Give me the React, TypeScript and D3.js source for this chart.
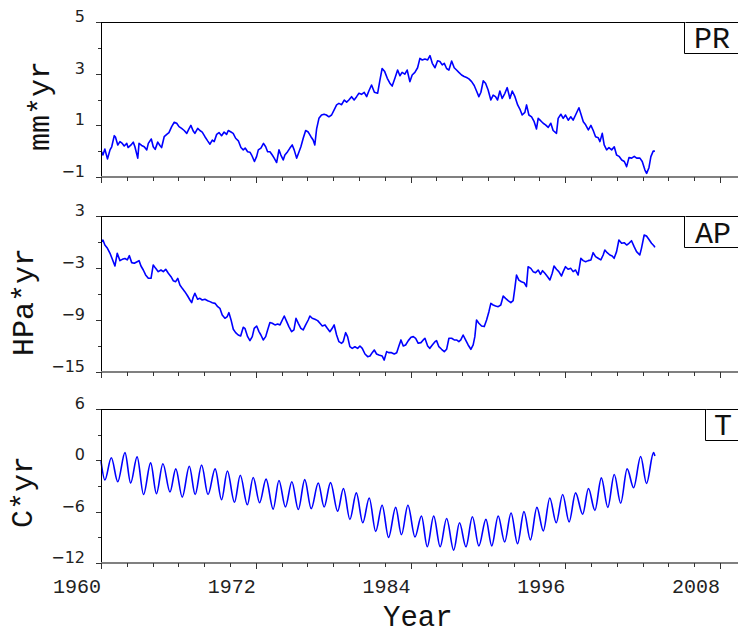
import React from "react";
import * as d3 from "d3";

// Tick labels
const YEAR_TICKS = [1960, 1972, 1984, 1996, 2008];
const PR_TICKS = [-1, 1, 3, 5];
const AP_TICKS = [-15, -9, -3, 3];
const T_TICKS = [-12, -6, 0, 6];

// Precipitation, cumulative anomaly (year, mm*yr)
const PR: [number, number][] = [
  [1960.05, -0.02], [1960.15, -0.15], [1960.3, 0.08], [1960.5, -0.3], [1960.7, 0.05], [1960.83, 0.17],
  [1961.03, 0.6], [1961.12, 0.55], [1961.3, 0.24], [1961.47, 0.37], [1961.65, 0.3], [1961.8, 0.2],
  [1962.0, 0.3], [1962.1, 0.14], [1962.33, 0.24], [1962.5, 0.35], [1962.63, 0.17], [1962.85, -0.27],
  [1962.95, 0.3], [1963.15, 0.22], [1963.35, 0.17], [1963.55, 0.05], [1963.67, 0.3], [1963.9, 0.47],
  [1964.05, 0.17], [1964.2, 0.07], [1964.4, 0.35], [1964.57, 0.22], [1964.7, 0.14], [1964.9, 0.56],
  [1965.1, 0.65], [1965.27, 0.72], [1965.48, 0.95], [1965.68, 1.12], [1965.87, 1.08], [1966.05, 0.95],
  [1966.25, 0.88], [1966.45, 0.8], [1966.65, 0.69], [1966.82, 0.86], [1966.97, 1.0], [1967.15, 0.78],
  [1967.28, 0.69], [1967.5, 0.88], [1967.67, 0.8], [1967.85, 0.74], [1968.06, 0.56], [1968.27, 0.4],
  [1968.45, 0.27], [1968.63, 0.43], [1968.78, 0.37], [1968.97, 0.65], [1969.15, 0.72], [1969.35, 0.6],
  [1969.55, 0.74], [1969.74, 0.65], [1969.87, 0.8], [1970.08, 0.74], [1970.25, 0.69], [1970.44, 0.5],
  [1970.65, 0.4], [1970.85, 0.14], [1971.03, 0.05], [1971.18, 0.12], [1971.37, -0.02], [1971.55, -0.04],
  [1971.68, -0.15], [1971.9, -0.4], [1972.07, -0.2], [1972.2, 0.05], [1972.4, 0.12], [1972.6, 0.3],
  [1972.77, 0.17], [1972.92, -0.02], [1973.1, -0.02], [1973.28, -0.15], [1973.43, -0.27], [1973.62, -0.44],
  [1973.8, 0.05], [1973.95, -0.15], [1974.13, -0.34], [1974.26, -0.15], [1974.47, -0.02], [1974.65, 0.12],
  [1974.83, 0.24], [1974.98, 0.05], [1975.17, -0.27], [1975.3, -0.1], [1975.5, 0.17], [1975.68, 0.5],
  [1975.87, 0.8], [1976.07, 0.74], [1976.28, 0.56], [1976.45, 0.43], [1976.58, 0.24], [1976.72, 0.86],
  [1976.9, 1.27], [1977.1, 1.4], [1977.3, 1.43], [1977.48, 1.4], [1977.67, 1.33], [1977.88, 1.4],
  [1978.08, 1.6], [1978.27, 1.79], [1978.45, 1.85], [1978.66, 1.8], [1978.86, 1.98], [1979.05, 1.9],
  [1979.22, 1.98], [1979.43, 2.11], [1979.63, 1.98], [1979.82, 2.11], [1980.0, 2.24], [1980.2, 2.2],
  [1980.41, 2.28], [1980.6, 2.11], [1980.77, 2.33], [1980.98, 2.56], [1981.2, 2.28], [1981.45, 2.24],
  [1981.63, 2.75], [1981.8, 3.2], [1982.0, 3.08], [1982.2, 2.82], [1982.4, 2.63], [1982.58, 2.52],
  [1982.79, 2.82], [1983.0, 3.14], [1983.18, 2.92], [1983.35, 3.05], [1983.56, 2.98], [1983.74, 3.14],
  [1983.95, 2.69], [1984.13, 2.95], [1984.34, 3.05], [1984.55, 3.23], [1984.73, 3.59], [1984.91, 3.53],
  [1985.12, 3.57], [1985.33, 3.53], [1985.51, 3.7], [1985.69, 3.4], [1985.9, 3.23], [1986.1, 3.5],
  [1986.28, 3.47], [1986.46, 3.34], [1986.62, 3.4], [1986.8, 3.2], [1986.98, 3.14], [1987.19, 3.49],
  [1987.39, 3.23], [1987.57, 3.14], [1987.75, 3.05], [1987.96, 2.95], [1988.16, 2.89], [1988.35, 2.85],
  [1988.53, 2.8], [1988.74, 2.69], [1988.94, 2.54], [1989.12, 2.33], [1989.3, 2.11], [1989.46, 2.28],
  [1989.64, 2.72], [1989.82, 2.63], [1990.02, 2.37], [1990.23, 1.98], [1990.41, 2.17], [1990.59, 2.11],
  [1990.75, 1.98], [1990.93, 2.33], [1991.11, 2.04], [1991.32, 2.24], [1991.5, 2.46], [1991.71, 2.04],
  [1991.89, 2.33], [1992.1, 2.11], [1992.31, 1.79], [1992.48, 1.63], [1992.66, 1.4], [1992.87, 1.5],
  [1993.0, 1.79], [1993.18, 1.4], [1993.39, 1.33], [1993.59, 1.14], [1993.77, 0.86], [1993.9, 1.27],
  [1994.11, 1.17], [1994.29, 1.08], [1994.47, 1.02], [1994.68, 0.92], [1994.88, 1.08], [1995.06, 0.8],
  [1995.32, 0.69], [1995.45, 1.27], [1995.66, 1.43], [1995.84, 1.27], [1996.02, 1.4], [1996.23, 1.2],
  [1996.43, 1.33], [1996.61, 1.2], [1996.8, 1.4], [1997.06, 1.68], [1997.22, 1.43], [1997.4, 1.14],
  [1997.58, 1.02], [1997.79, 0.82], [1997.99, 1.0], [1998.17, 0.8], [1998.35, 0.56], [1998.56, 0.52],
  [1998.69, 0.37], [1998.87, 0.69], [1999.02, 0.24], [1999.21, 0.05], [1999.39, 0.14], [1999.6, 0.05],
  [1999.8, 0.17], [1999.98, -0.15], [2000.17, -0.2], [2000.38, -0.34], [2000.58, -0.4], [2000.76, -0.6],
  [2000.94, -0.25], [2001.15, -0.27], [2001.35, -0.2], [2001.54, -0.27], [2001.79, -0.27], [2001.97, -0.4],
  [2002.18, -0.73], [2002.31, -0.86], [2002.49, -0.64], [2002.64, -0.21], [2002.82, 0.0], [2002.95, 0.0],
];

// Air pressure, cumulative anomaly (year, HPa*yr)
const AP: [number, number][] = [
  [1960.05, 0.04], [1960.15, 0.23], [1960.3, -0.35], [1960.5, -0.73], [1960.7, -1.3], [1960.88, -2.0],
  [1961.08, -2.77], [1961.26, -1.3], [1961.47, -2.15], [1961.65, -2.0], [1961.86, -1.9], [1962.04, -2.07],
  [1962.2, -1.58], [1962.38, -2.38], [1962.58, -2.46], [1962.77, -2.3], [1962.95, -2.15], [1963.1, -2.77],
  [1963.28, -3.23], [1963.46, -3.8], [1963.67, -4.19], [1963.88, -4.19], [1964.05, -2.65], [1964.24, -3.04],
  [1964.44, -3.42], [1964.65, -3.23], [1964.83, -3.42], [1965.02, -3.15], [1965.22, -3.61], [1965.43, -4.0],
  [1965.6, -4.46], [1965.79, -4.58], [1965.95, -4.19], [1966.12, -4.96], [1966.3, -5.35], [1966.5, -5.73],
  [1966.72, -6.23], [1966.9, -6.69], [1967.03, -7.0], [1967.15, -6.38], [1967.28, -5.92], [1967.49, -6.61],
  [1967.67, -6.5], [1967.85, -6.69], [1968.06, -6.61], [1968.27, -6.77], [1968.45, -6.88], [1968.63, -7.0],
  [1968.84, -7.08], [1969.05, -7.46], [1969.22, -7.65], [1969.4, -8.42], [1969.61, -8.8], [1969.79, -8.6],
  [1969.92, -8.15], [1970.08, -8.96], [1970.26, -10.07], [1970.44, -10.46], [1970.64, -10.73], [1970.83, -10.85],
  [1971.03, -9.84], [1971.16, -9.96], [1971.37, -10.92], [1971.55, -11.38], [1971.73, -10.92], [1971.88, -9.96],
  [1972.07, -9.69], [1972.25, -10.34], [1972.4, -10.73], [1972.58, -11.3], [1972.77, -10.92], [1972.92, -10.15],
  [1973.1, -9.3], [1973.28, -9.38], [1973.49, -9.57], [1973.7, -9.46], [1973.88, -9.57], [1974.06, -9.0],
  [1974.21, -8.54], [1974.4, -9.19], [1974.57, -9.76], [1974.78, -10.35], [1974.96, -10.15], [1975.12, -8.8],
  [1975.3, -9.38], [1975.5, -9.96], [1975.68, -10.15], [1975.87, -9.57], [1976.07, -9.0], [1976.2, -8.54],
  [1976.38, -8.8], [1976.59, -8.92], [1976.8, -9.07], [1976.98, -9.38], [1977.16, -9.69], [1977.37, -9.57],
  [1977.55, -9.96], [1977.75, -10.35], [1977.93, -9.96], [1978.08, -9.57], [1978.27, -10.73], [1978.45, -11.5],
  [1978.66, -11.69], [1978.78, -11.5], [1978.97, -10.46], [1979.12, -10.92], [1979.3, -12.08], [1979.48, -12.27],
  [1979.69, -12.08], [1979.9, -12.27], [1980.08, -12.0], [1980.26, -12.27], [1980.47, -12.92], [1980.68, -13.23],
  [1980.86, -13.15], [1981.03, -12.77], [1981.19, -12.46], [1981.37, -12.92], [1981.55, -13.04], [1981.8, -13.15],
  [1981.96, -13.62], [1982.15, -12.65], [1982.33, -12.77], [1982.53, -12.77], [1982.74, -12.92], [1982.93, -12.77],
  [1983.1, -12.0], [1983.26, -11.3], [1983.44, -12.0], [1983.62, -11.88], [1983.83, -11.38], [1984.04, -11.0],
  [1984.22, -10.92], [1984.4, -11.11], [1984.6, -11.69], [1984.81, -11.61], [1984.99, -11.3], [1985.12, -11.11],
  [1985.33, -12.0], [1985.5, -12.27], [1985.69, -11.88], [1985.9, -11.5], [1986.02, -11.38], [1986.2, -12.08],
  [1986.41, -12.38], [1986.62, -12.65], [1986.8, -12.38], [1986.98, -11.11], [1987.19, -11.11], [1987.39, -11.3],
  [1987.57, -11.3], [1987.75, -11.5], [1987.9, -11.3], [1988.08, -10.73], [1988.27, -11.3], [1988.47, -11.88],
  [1988.68, -12.38], [1988.86, -11.88], [1988.99, -10.92], [1989.12, -9.0], [1989.3, -9.38], [1989.51, -9.69],
  [1989.72, -9.76], [1989.9, -9.0], [1990.08, -8.04], [1990.23, -7.08], [1990.41, -7.27], [1990.6, -7.38],
  [1990.8, -7.46], [1991.0, -7.27], [1991.19, -6.23], [1991.37, -6.5], [1991.57, -6.77], [1991.78, -7.0],
  [1991.96, -6.77], [1992.09, -5.35], [1992.22, -3.81], [1992.4, -4.4], [1992.6, -4.58], [1992.81, -4.69],
  [1992.99, -5.15], [1993.12, -2.85], [1993.33, -3.04], [1993.51, -3.42], [1993.7, -3.54], [1993.9, -3.23],
  [1994.08, -3.73], [1994.24, -3.31], [1994.42, -3.61], [1994.63, -4.0], [1994.81, -4.38], [1994.99, -3.61],
  [1995.13, -2.77], [1995.32, -3.15], [1995.5, -3.42], [1995.71, -3.92], [1995.84, -3.42], [1996.02, -2.85],
  [1996.22, -3.15], [1996.43, -3.04], [1996.61, -3.42], [1996.8, -3.23], [1997.0, -3.81], [1997.21, -1.88],
  [1997.39, -2.15], [1997.58, -2.27], [1997.78, -2.15], [1997.99, -2.07], [1998.16, -1.23], [1998.35, -1.69],
  [1998.55, -1.88], [1998.76, -2.07], [1998.94, -1.5], [1999.07, -0.92], [1999.25, -1.23], [1999.46, -1.5],
  [1999.64, -1.61], [1999.79, -1.88], [1999.98, -1.11], [2000.16, 0.23], [2000.37, -0.15], [2000.57, -0.08],
  [2000.76, -0.35], [2000.94, -0.15], [2001.14, 0.15], [2001.34, -0.54], [2001.53, -1.11], [2001.78, -1.5],
  [2001.91, -0.73], [2002.12, 0.81], [2002.3, 0.69], [2002.48, 0.31], [2002.69, -0.15], [2002.89, -0.46],
  [2002.95, -0.62],
];

// Temperature, cumulative anomaly: seasonal peaks and troughs (year, C*yr)
const T: [number, number][] = [
  [1960.0, -0.1], [1960.3, -2.3], [1960.8, 0.3], [1961.3, -2.5], [1961.86, 0.9], [1962.3, -2.65],
  [1962.8, 0.4], [1963.3, -4.0], [1963.85, -0.3], [1964.3, -3.9], [1964.8, -0.4], [1965.35, -3.7],
  [1965.8, -1.0], [1966.3, -4.3], [1966.85, -0.7], [1967.3, -4.0], [1967.8, -0.55], [1968.3, -4.0],
  [1968.85, -1.0], [1969.35, -4.6], [1969.8, -1.25], [1970.35, -4.9], [1970.8, -1.75], [1971.35, -5.2],
  [1971.8, -2.0], [1972.3, -4.95], [1972.8, -2.2], [1973.35, -5.7], [1973.8, -2.35], [1974.3, -5.45],
  [1974.8, -2.5], [1975.3, -5.75], [1975.8, -2.25], [1976.3, -5.65], [1976.85, -2.65], [1977.3, -5.45],
  [1977.8, -2.6], [1978.35, -5.95], [1978.8, -3.3], [1979.3, -6.9], [1979.8, -3.8], [1980.3, -7.3],
  [1980.8, -4.4], [1981.3, -8.3], [1981.8, -5.25], [1982.3, -9.0], [1982.85, -5.5], [1983.3, -8.7],
  [1983.8, -5.25], [1984.35, -8.95], [1984.85, -6.5], [1985.3, -10.1], [1985.8, -6.5], [1986.3, -10.1],
  [1986.8, -6.8], [1987.35, -10.5], [1987.8, -7.3], [1988.3, -10.1], [1988.8, -6.6], [1989.3, -10.0],
  [1989.85, -6.9], [1990.3, -10.0], [1990.8, -6.5], [1991.3, -9.55], [1991.8, -6.15], [1992.3, -9.75],
  [1992.8, -6.0], [1993.3, -9.3], [1993.8, -5.5], [1994.3, -8.25], [1994.8, -4.4], [1995.3, -7.3],
  [1995.8, -4.0], [1996.3, -7.2], [1996.8, -3.8], [1997.35, -6.3], [1997.8, -3.3], [1998.3, -5.85],
  [1998.8, -2.05], [1999.3, -5.5], [1999.8, -1.65], [2000.3, -5.0], [2000.8, -1.0], [2001.3, -3.2],
  [2001.85, 0.45], [2002.3, -2.7], [2002.85, 0.9], [2002.95, 0.5],
];

const WIDTH = 738;
const HEIGHT = 635;
const PLOT_LEFT = 101;
const PLOT_RIGHT = 738;
const MONO = "'Courier New', Courier, 'Nimbus Mono PS', FreeMono, 'Liberation Mono', monospace";
const SANS = "'DejaVu Sans', sans-serif";
const LINE_BLUE = "#0000ff";

const xScale = d3.scaleLinear().domain([1960, 2008]).range([PLOT_LEFT, 720]);
const yearMinor = d3.range(1960, 2009, 2);

type Panel = {
  name: string;
  unit: string;
  data: [number, number][];
  domain: [number, number];
  top: number;
  bottom: number;
  labels: number[];
  step: number;
  curve: d3.CurveFactory;
  boxX: number;
  boxBottom: number;
  nameX: number;
  nameY: number;
  unitX: number;
  unitY: number;
};

const PANELS: Panel[] = [
  { name: "PR", unit: "mm*yr", data: PR, domain: [-1, 5], top: 22, bottom: 177, labels: PR_TICKS, step: 1,
    curve: d3.curveLinear, boxX: 684, boxBottom: 53, nameX: 694, nameY: 48, unitX: 49, unitY: 106 },
  { name: "AP", unit: "HPa*yr", data: AP, domain: [-15, 3], top: 216, bottom: 372, labels: AP_TICKS, step: 3,
    curve: d3.curveLinear, boxX: 684, boxBottom: 247, nameX: 695, nameY: 243, unitX: 33, unitY: 302 },
  { name: "T", unit: "C*yr", data: T, domain: [-12, 6], top: 409, bottom: 563, labels: T_TICKS, step: 3,
    curve: d3.curveMonotoneX, boxX: 705, boxBottom: 440, nameX: 714, nameY: 435, unitX: 32, unitY: 492 },
];

function PanelView({ p, showYears }: { p: Panel; showYears: boolean }) {
  const y = d3.scaleLinear().domain(p.domain).range([p.bottom, p.top]);
  const line = d3
    .line<[number, number]>()
    .x((d) => xScale(d[0]))
    .y((d) => y(d[1]))
    .curve(p.curve);
  const yMinor = d3.range(p.domain[0], p.domain[1] + p.step / 2, p.step);
  return (
    <g>
      {/* series */}
      <path d={line(p.data) ?? ""} fill="none" stroke={LINE_BLUE} strokeWidth={1.6} strokeLinejoin="round" />

      {/* frame */}
      <line x1={PLOT_LEFT} x2={PLOT_RIGHT} y1={p.top + 0.5} y2={p.top + 0.5} stroke="#000" strokeWidth={1} />
      <line x1={PLOT_LEFT + 0.5} x2={PLOT_LEFT + 0.5} y1={p.top} y2={p.bottom} stroke="#000" strokeWidth={1} />
      <line x1={PLOT_LEFT} x2={PLOT_RIGHT} y1={p.bottom} y2={p.bottom} stroke="#808080" strokeWidth={2} />

      {/* x ticks */}
      {yearMinor.map((yr) => {
        const major = YEAR_TICKS.includes(yr);
        const xx = Math.round(xScale(yr)) + 0.5;
        return (
          <line key={yr} x1={xx} x2={xx} y1={p.bottom} y2={p.bottom + (major ? 6 : 4)} stroke="#333" strokeWidth={1} />
        );
      })}

      {/* y ticks */}
      {yMinor.map((v) => {
        const major = p.labels.includes(v);
        const yy = Math.round(y(v)) + 0.5;
        return (
          <line key={v} x1={PLOT_LEFT - (major ? 5 : 3)} x2={PLOT_LEFT} y1={yy} y2={yy} stroke="#333" strokeWidth={1} />
        );
      })}
      {p.labels.map((v) => (
        <text key={v} x={85} y={y(v)} textAnchor="end" fontFamily={SANS} fontSize={16} fill="#222">
          {v < 0 ? `\u2212${Math.abs(v)}` : v}
        </text>
      ))}

      {/* unit title */}
      <text
        transform={`translate(${p.unitX},${p.unitY}) rotate(-90)`}
        textAnchor="middle"
        fontFamily={MONO}
        fontSize={30}
        fill="#111"
      >
        {p.unit}
      </text>

      {/* series name box */}
      <path
        d={`M${PLOT_RIGHT + 1},${p.boxBottom + 0.5} H${p.boxX + 0.5} V${p.top}`}
        fill="#fff"
        stroke="#000"
        strokeWidth={1}
      />
      <text x={p.nameX} y={p.nameY} fontFamily={MONO} fontSize={30} fill="#111">
        {p.name}
      </text>

      {showYears &&
        YEAR_TICKS.map((yr) => (
          <text key={yr} x={xScale(yr)} y={593} textAnchor="end" fontFamily={MONO} fontSize={20} fill="#222">
            {yr}
          </text>
        ))}
    </g>
  );
}

export default function App() {
  return (
    <svg
      width={WIDTH}
      height={HEIGHT}
      viewBox={`0 0 ${WIDTH} ${HEIGHT}`}
      style={{ position: "absolute", left: 0, top: 0, background: "#fff" }}
    >
      {PANELS.map((p, i) => (
        <PanelView key={p.name} p={p} showYears={i === PANELS.length - 1} />
      ))}
      <text x={383} y={626} fontFamily={MONO} fontSize={29} fill="#111">
        Year
      </text>
    </svg>
  );
}
